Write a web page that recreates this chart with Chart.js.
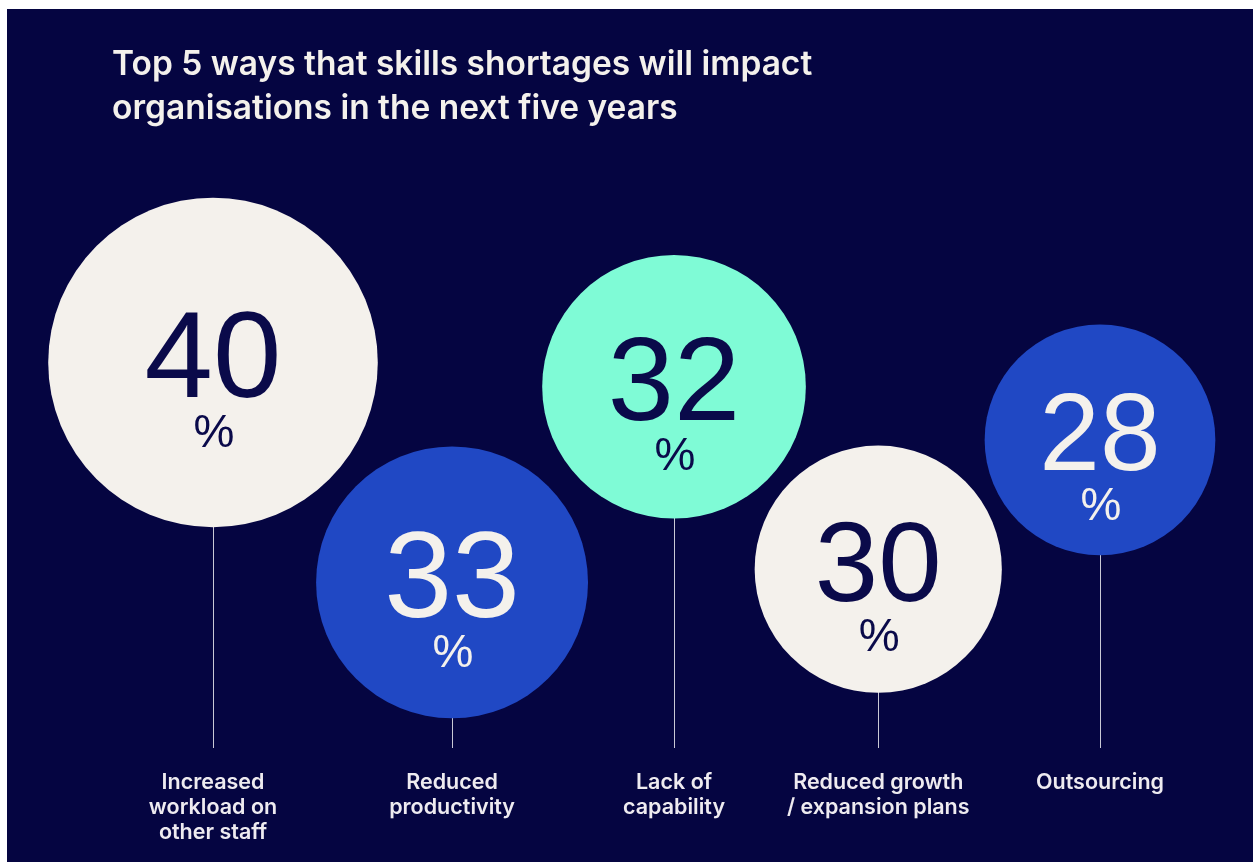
<!DOCTYPE html>
<html lang="en">
<head>
    <meta charset="UTF-8">
    <title>Skills shortages impact</title>
    <script src="https://cdn.jsdelivr.net/npm/chart.js"></script>
    <style>
        body { margin: 0; background: #ffffff; }
        #panel { position: absolute; left: 7px; top: 9px; width: 1246px; height: 853px; background: #050541; }
    </style>
</head>
<body>
    <div id="panel"><canvas id="impactChart"></canvas></div>

    <script>
        // Chart data
        const titleLines = ["Top 5 ways that skills shortages will impact", "organisations in the next five years"];
        const categories = [
            ["Increased", "workload on", "other staff"],
            ["Reduced", "productivity"],
            ["Lack of", "capability"],
            ["Reduced growth", "/ expansion plans"],
            ["Outsourcing"]
        ];
        const shares = [40, 33, 32, 30, 28];
        const unitLabel = "%";

        // Bubble placement in axis units (layout only)
        const slotX = [0, 1.078, 2.079, 3, 4];
        const liftY = [93.6, 40.2, 87.7, 43.4, 74.8];
        const radiusPerPoint = 4.12; // bubble radius in px for 1 percentage point

        const navy = "#0a0a4a";
        const cream = "#f4f1ec";
        const blue = "#2048c4";
        const mint = "#7ffbd6";
        const fillColors = [cream, blue, mint, cream, blue];
        const textColors = [navy, cream, navy, navy, cream];

        // thin stems from the axis up to each bubble
        const stems = {
            id: "stems",
            beforeDatasetsDraw(chart) {
                const ctx = chart.ctx;
                const bottom = chart.chartArea.bottom;
                ctx.save();
                ctx.strokeStyle = "#c9c9d6";
                ctx.lineWidth = 1;
                chart.getDatasetMeta(0).data.forEach(el => {
                    const x = Math.round(el.x) + 0.5;
                    ctx.beginPath();
                    ctx.moveTo(x, el.y + el.options.radius - 2);
                    ctx.lineTo(x, bottom);
                    ctx.stroke();
                });
                ctx.restore();
            }
        };

        // value + % inside each bubble
        const bubbleText = {
            id: "bubbleText",
            afterDatasetsDraw(chart) {
                const ctx = chart.ctx;
                ctx.save();
                ctx.textAlign = "center";
                ctx.textBaseline = "alphabetic";
                chart.getDatasetMeta(0).data.forEach((el, i) => {
                    const r = el.options.radius;
                    const fs = Math.round(Math.min(123, 0.6 * r + 40));
                    const base = el.y - 9 + 0.358 * fs;
                    ctx.fillStyle = textColors[i];
                    ctx.font = "400 " + fs + "px 'Liberation Sans', Arial, sans-serif";
                    ctx.fillText(String(shares[i]), el.x, base);
                    ctx.font = "400 46px 'Liberation Sans', Arial, sans-serif";
                    ctx.fillText(unitLabel, el.x + 1, base + 50);
                });
                ctx.restore();
            }
        };

        // heading in the top left corner
        const heading = {
            id: "heading",
            afterDraw(chart) {
                const ctx = chart.ctx;
                ctx.save();
                ctx.fillStyle = cream;
                ctx.textAlign = "left";
                ctx.textBaseline = "alphabetic";
                ctx.font = "600 30px Inter, sans-serif";
                const w = ctx.measureText(titleLines[0]).width;
                const size = 30 * 700 / w;
                ctx.font = "600 " + size.toFixed(1) + "px Inter, sans-serif";
                ctx.fillText(titleLines[0], 105, 66);
                ctx.fillText(titleLines[1], 105, 110);
                ctx.restore();
            }
        };

        const ctx = document.getElementById("impactChart").getContext("2d");
        new Chart(ctx, {
            type: "bubble",
            data: {
                datasets: [{
                    label: "Share of organisations (%)",
                    data: shares.map((v, i) => ({ x: slotX[i], y: liftY[i], r: v * radiusPerPoint })),
                    backgroundColor: fillColors,
                    borderWidth: 0,
                    clip: false
                }]
            },
            options: {
                responsive: true,
                maintainAspectRatio: false,
                animation: false,
                events: [],
                layout: { autoPadding: false, padding: { left: 0, right: 0, top: 0, bottom: 17 } },
                plugins: {
                    legend: { display: false },
                    tooltip: { enabled: false }
                },
                scales: {
                    x: {
                        type: "linear",
                        min: -0.929,
                        max: 4.69,
                        afterBuildTicks: axis => { axis.ticks = slotX.map(v => ({ value: v })); },
                        afterFit: axis => { axis.height = 97; },
                        grid: { display: false, drawTicks: false },
                        border: { display: false },
                        ticks: {
                            autoSkip: false,
                            maxRotation: 0,
                            minRotation: 0,
                            padding: 22,
                            color: "#eeebf0",
                            font: { family: "Inter, sans-serif", size: 21.5, weight: "600", lineHeight: 25 / 21.5 },
                            callback: (value, index) => categories[index]
                        }
                    },
                    y: {
                        display: false,
                        min: 0,
                        max: 179.4
                    }
                }
            },
            plugins: [stems, bubbleText, heading]
        });
    </script>
</body>
</html>
